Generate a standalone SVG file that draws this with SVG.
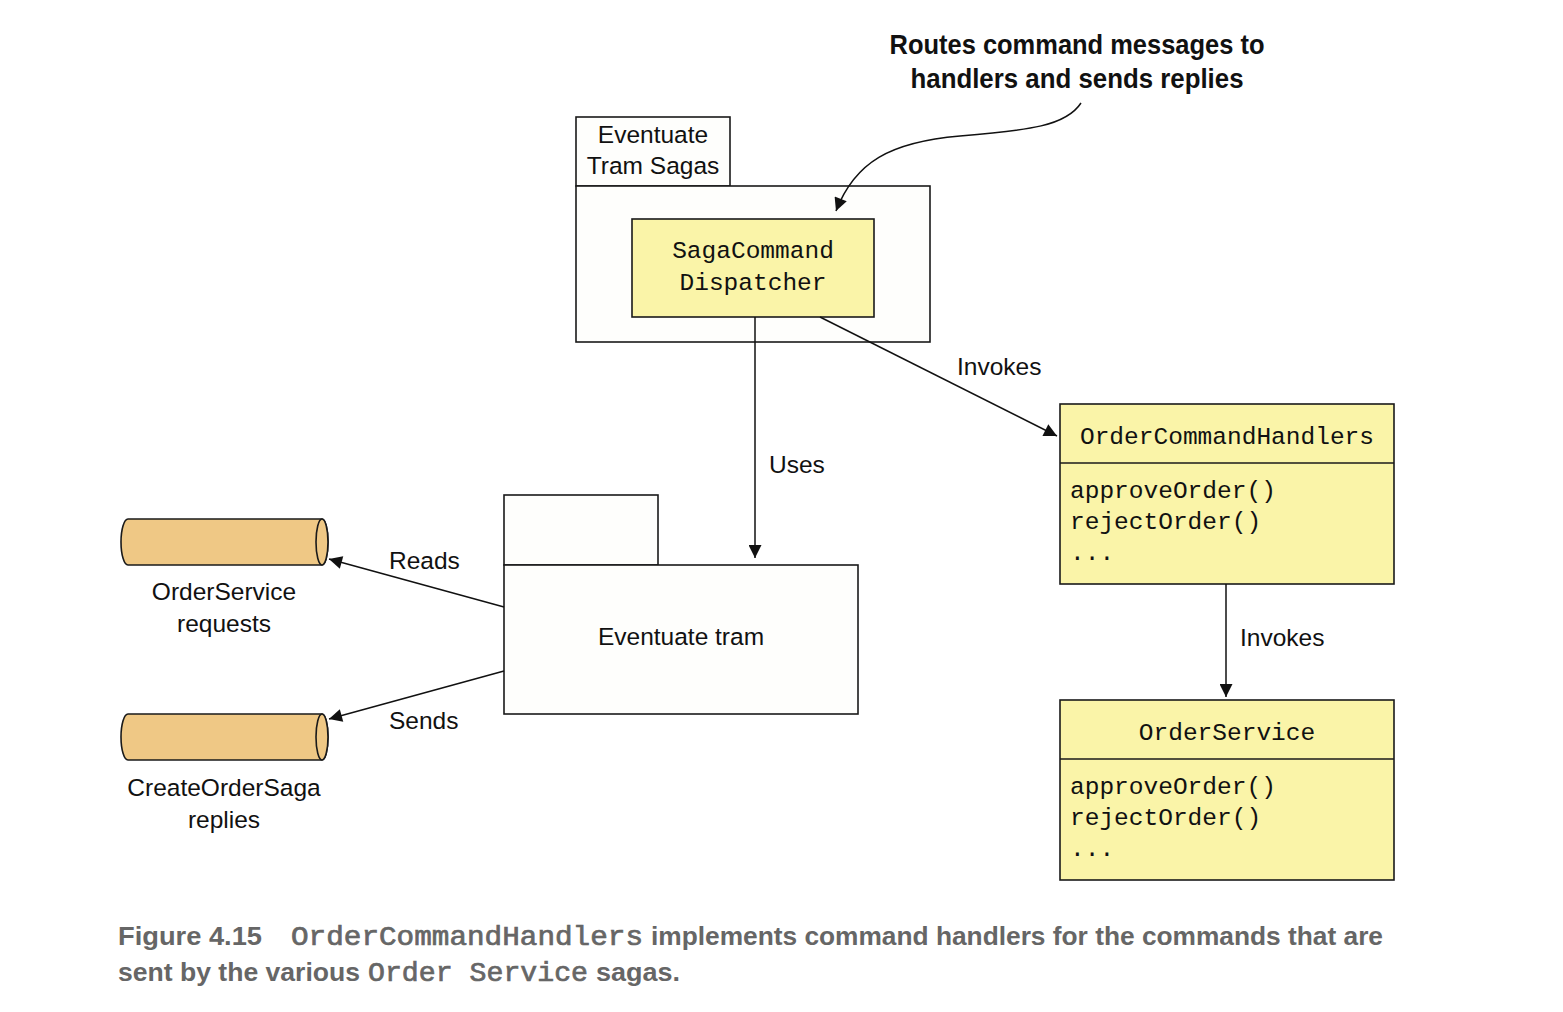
<svg xmlns="http://www.w3.org/2000/svg" width="1563" height="1012" viewBox="0 0 1563 1012">
<style>
.box{fill:#fefefc;stroke:#1a1a1a;stroke-width:1.6}
.yel{fill:#faf4a8;stroke:#1a1a1a;stroke-width:1.6}
.cyl{fill:#efc885;stroke:#1a1a1a;stroke-width:1.6}
.sans{font-family:"Liberation Sans",Arial,sans-serif;font-size:24.5px;fill:#111}
.mono{font-family:"Liberation Mono","Courier New",monospace;font-size:24.5px;fill:#111}
.conn{stroke:#111;stroke-width:1.5;fill:none}
.note{font-family:"Liberation Sans Narrow","Liberation Sans",sans-serif;font-weight:bold;font-size:28px;fill:#111}
.cap{font-family:"Liberation Sans Narrow","Liberation Sans",sans-serif;font-weight:bold;font-size:26px;fill:#666}
.capm{font-family:"Liberation Mono","Courier New",monospace;font-size:27px;fill:#666;stroke:#666;stroke-width:0.7}
</style>
<defs>
<marker id="ah" viewBox="0 0 10 10" refX="10" refY="5" markerWidth="18" markerHeight="13" markerUnits="userSpaceOnUse" orient="auto">
<path d="M0,0 L10,5 L0,10 z" fill="#111"/>
</marker>
</defs>
<rect width="1563" height="1012" fill="#fff"/>

<g id="sagas">
<rect class="box" x="576" y="117" width="154" height="69"/>
<rect class="box" x="576" y="186" width="354" height="156"/>
<text class="sans" x="653" y="143" text-anchor="middle">Eventuate</text>
<text class="sans" x="653" y="174" text-anchor="middle">Tram Sagas</text>
</g>
<g id="dispatcher">
<rect class="yel" x="632" y="219" width="242" height="98"/>
<text class="mono" x="753" y="258" text-anchor="middle">SagaCommand</text>
<text class="mono" x="753" y="290" text-anchor="middle">Dispatcher</text>
</g>

<g id="tram">
<rect class="box" x="504" y="495" width="154" height="70"/>
<rect class="box" x="504" y="565" width="354" height="149"/>
<text class="sans" x="681" y="645" text-anchor="middle">Eventuate tram</text>
</g>

<g id="requests">
<path class="cyl" d="M128,519 L322,519 A6,23 0 0 1 322,565 L128,565 A7,23 0 0 1 128,519 z"/>
<ellipse class="cyl" cx="322" cy="542" rx="6" ry="23"/>
<text class="sans" x="224" y="600" text-anchor="middle">OrderService</text>
<text class="sans" x="224" y="632" text-anchor="middle">requests</text>
</g>
<g id="replies">
<path class="cyl" d="M128,714 L322,714 A6,23 0 0 1 322,760 L128,760 A7,23 0 0 1 128,714 z"/>
<ellipse class="cyl" cx="322" cy="737" rx="6" ry="23"/>
<text class="sans" x="224" y="796" text-anchor="middle">CreateOrderSaga</text>
<text class="sans" x="224" y="828" text-anchor="middle">replies</text>
</g>

<g id="handlers">
<rect class="yel" x="1060" y="404" width="334" height="180"/>
<line x1="1060" y1="463" x2="1394" y2="463" stroke="#1a1a1a" stroke-width="1.6"/>
<text class="mono" x="1227" y="444" text-anchor="middle">OrderCommandHandlers</text>
<text class="mono" x="1070" y="498">approveOrder()</text>
<text class="mono" x="1070" y="529">rejectOrder()</text>
<text class="mono" x="1070" y="560">...</text>
</g>
<g id="orderservice">
<rect class="yel" x="1060" y="700" width="334" height="180"/>
<line x1="1060" y1="759" x2="1394" y2="759" stroke="#1a1a1a" stroke-width="1.6"/>
<text class="mono" x="1227" y="740" text-anchor="middle">OrderService</text>
<text class="mono" x="1070" y="794">approveOrder()</text>
<text class="mono" x="1070" y="825">rejectOrder()</text>
<text class="mono" x="1070" y="856">...</text>
</g>

<g id="connectors">
<line class="conn" x1="755" y1="317" x2="755" y2="558" marker-end="url(#ah)"/>
<line class="conn" x1="820" y1="317" x2="1057" y2="436" marker-end="url(#ah)"/>
<line class="conn" x1="1226" y1="584" x2="1226" y2="697" marker-end="url(#ah)"/>
<line class="conn" x1="504" y1="607" x2="329" y2="559" marker-end="url(#ah)"/>
<line class="conn" x1="504" y1="671" x2="329" y2="719" marker-end="url(#ah)"/>
<path class="conn" d="M1081,103 C1066,126 1030,130 960,136 C890,142 855,162 836,211" marker-end="url(#ah)"/>
<text class="sans" x="769" y="473">Uses</text>
<text class="sans" x="957" y="375">Invokes</text>
<text class="sans" x="1240" y="646">Invokes</text>
<text class="sans" x="389" y="569">Reads</text>
<text class="sans" x="389" y="729">Sends</text>
</g>

<g id="note">
<text class="note" x="1077" y="54" text-anchor="middle" textLength="375" lengthAdjust="spacingAndGlyphs">Routes command messages to</text>
<text class="note" x="1077" y="88" text-anchor="middle" textLength="333" lengthAdjust="spacingAndGlyphs">handlers and sends replies</text>
</g>

<g id="caption">
<text class="cap" x="118" y="945" textLength="144" lengthAdjust="spacingAndGlyphs">Figure 4.15</text>
<text class="capm" x="291" y="945" textLength="352" lengthAdjust="spacingAndGlyphs">OrderCommandHandlers</text>
<text class="cap" x="651" y="945" textLength="732" lengthAdjust="spacingAndGlyphs">implements command handlers for the commands that are</text>
<text class="cap" x="118" y="981" textLength="242" lengthAdjust="spacingAndGlyphs">sent by the various</text>
<text class="capm" x="368" y="981" textLength="220" lengthAdjust="spacingAndGlyphs">Order Service</text>
<text class="cap" x="596" y="981" textLength="84" lengthAdjust="spacingAndGlyphs">sagas.</text>
</g>
</svg>
